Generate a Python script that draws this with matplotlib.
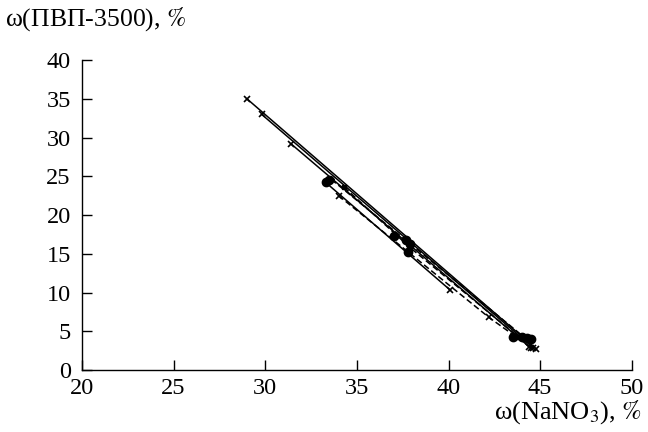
import matplotlib
matplotlib.use("Agg")
import matplotlib.pyplot as plt

plt.rcParams['font.family'] = ['Liberation Serif', 'DejaVu Serif']
plt.rcParams['mathtext.fontset'] = 'stix'

# tie lines: salt (x) and polymer (y) content, %
tie1_x = [29.0, 44.8]
tie1_y = [35.0, 2.7]
tie2_x = [29.8, 44.6]
tie2_y = [33.0, 2.9]
tie3_x = [31.4, 44.4]
tie3_y = [29.2, 3.0]
tie4_x = [33.3, 37.0, 40.1]
tie4_y = [24.2, 17.3, 10.3]
tie5_x = [34.0, 42.2, 44.5]
tie5_y = [22.5, 6.8, 2.9]
tie6_x = [33.6, 37.8, 44.2]
tie6_y = [24.6, 16.5, 4.1]
tie7_x = [34.3, 37.9, 43.8]
tie7_y = [23.6, 15.8, 4.3]

# feed compositions (filled circles)
feed_x = [33.3, 33.5, 37.0, 37.7, 37.8, 37.9, 43.5, 44.0, 44.3, 44.5]
feed_y = [24.2, 24.5, 17.3, 16.8, 15.2, 16.3, 4.3, 4.2, 4.1, 4.0]

fig = plt.figure(figsize=(6.48, 4.32), dpi=100)
ax = fig.add_axes([0.1265, 0.1435, 0.8485, 0.7175])

# solid tie lines with end points
ax.plot(tie1_x, tie1_y, color='black', lw=1.1, marker='x', ms=5, mew=1.2)
ax.plot(tie2_x, tie2_y, color='black', lw=1.1, marker='x', ms=5, mew=1.2)
ax.plot(tie3_x, tie3_y, color='black', lw=1.1, marker='x', ms=5, mew=1.2)
ax.plot([tie4_x[0], tie4_x[-1]], [tie4_y[0], tie4_y[-1]], color='black', lw=1.1)
ax.plot(tie4_x[-1:], tie4_y[-1:], color='black', ls='none', marker='x', ms=5, mew=1.2)
# dashed tie lines
ax.plot(tie5_x, tie5_y, color='black', lw=1.1, ls=(0, (4, 2)), marker='x', ms=5, mew=1.2)
ax.plot(tie6_x, tie6_y, color='black', lw=1.1, ls=(0, (4, 2)), marker='D', ms=3)
ax.plot(tie7_x, tie7_y, color='black', lw=1.1, ls=(0, (4, 2)), marker='s', ms=3)

ax.plot(feed_x, feed_y, color='black', ls='none', marker='o', ms=6)

ax.set_xlim(20, 50)
ax.set_ylim(0, 40)
ax.set_xticks([20, 25, 30, 35, 40, 45, 50])
ax.set_yticks(range(0, 41, 5))
ax.tick_params(direction='in', length=7, width=1, labelsize=17.5, pad=6)
ax.tick_params(axis='y', pad=8)
for s in ['top', 'right']:
    ax.spines[s].set_visible(False)
for s in ['left', 'bottom']:
    ax.spines[s].set_linewidth(1)

fig.text(0.008, 0.955, r"ω(ПВП-3500), $\mathit{\%}$", fontsize=18.5, ha='left', va='center')
fig.text(0.99, 0.045, r"ω(NaNO$_3$), $\mathit{\%}$", fontsize=19, ha='right', va='center')

fig.savefig("out.png", dpi=100)
